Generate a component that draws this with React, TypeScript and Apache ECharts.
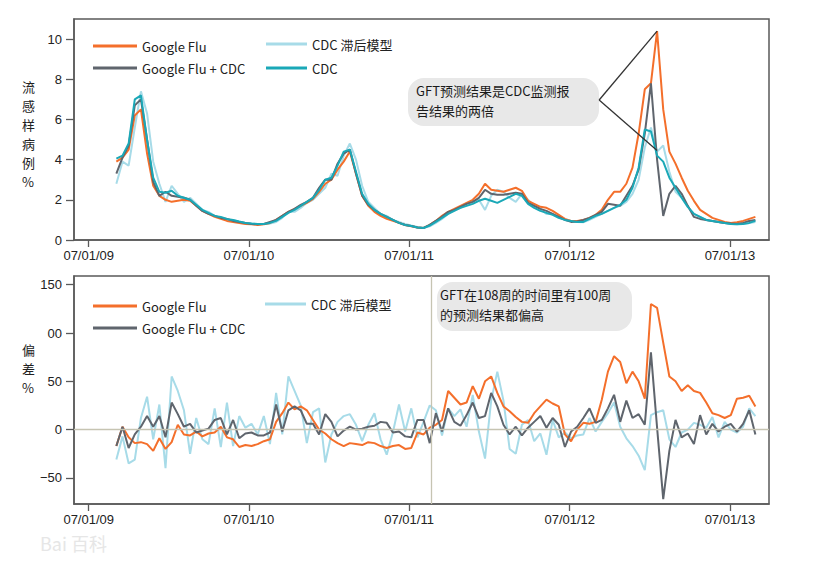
import React, { useEffect, useRef } from "react";
import * as echarts from "echarts";

// Sampling grid: days since 07/01/09, one sample every two weeks
const START_DAY = 63;
const STEP_DAYS = 14;

const TICK_DAYS = [0, 365, 730, 1096, 1461];
const TICK_LABELS = ["07/01/09", "07/01/10", "07/01/11", "07/01/12", "07/01/13"];
const FLU_TICKS = [0, 2, 4, 6, 8, 10];
const ERR_TICKS = [-50, 0, 50, 100, 150];
const ERR_TICK_LABELS = ["−50", "0", "50", "00", "150"];

// Top panel: ILI %
const fluGoogle = [
  3.9, 4.1, 4.5, 6.2, 6.5, 4.3, 2.7, 2.2, 2.0, 1.9, 1.95, 2.0, 1.95, 1.7, 1.45, 1.3, 1.15, 1.05, 0.95, 0.9,
  0.85, 0.8, 0.78, 0.75, 0.78, 0.85, 1.0, 1.2, 1.4, 1.55, 1.7, 1.85, 2.05, 2.4, 2.8, 3.0, 3.5, 3.9, 4.4, 3.3,
  2.2, 1.7, 1.4, 1.2, 1.05, 0.95, 0.85, 0.75, 0.68, 0.62, 0.6, 0.75, 0.95, 1.2, 1.4, 1.55, 1.7, 1.85, 2.0, 2.3,
  2.8, 2.5, 2.45, 2.4, 2.5, 2.6, 2.45, 1.95, 1.8, 1.65, 1.6, 1.45, 1.25, 1.05, 0.95, 0.95, 1.0, 1.1, 1.25, 1.5,
  2.0, 2.4, 2.4, 2.8, 3.6, 5.3, 7.5, 7.8, 10.4, 6.5, 4.4, 3.8, 3.1, 2.45, 1.95, 1.5, 1.3, 1.1, 1.0, 0.9,
  0.85, 0.88, 0.95, 1.05, 1.15,
];
const fluGoogleCdc = [
  3.3, 4.1, 4.7, 6.7, 7.0, 5.0, 2.9, 2.2, 2.4, 2.2, 2.15, 2.1, 2.0, 1.7, 1.45, 1.3, 1.2, 1.1, 1.05, 0.95,
  0.9, 0.85, 0.8, 0.78, 0.8, 0.9, 1.0, 1.2, 1.4, 1.55, 1.75, 1.9, 2.1, 2.6, 3.0, 3.0, 3.8, 4.3, 4.5, 3.3,
  2.2, 1.75, 1.5, 1.3, 1.15, 1.0, 0.85, 0.75, 0.7, 0.62, 0.6, 0.75, 0.95, 1.15, 1.4, 1.5, 1.65, 1.8, 1.9, 2.1,
  2.5, 2.3, 2.25, 2.25, 2.3, 2.35, 2.3, 1.85, 1.7, 1.55, 1.45, 1.3, 1.15, 1.0, 0.9, 0.92, 1.0, 1.1, 1.25, 1.4,
  1.8, 1.75, 1.7, 2.2, 2.7, 3.5, 5.3, 7.8, 4.0, 1.2, 2.3, 2.7, 2.3, 1.7, 1.15, 1.05, 1.0, 0.95, 0.9, 0.85,
  0.82, 0.8, 0.85, 0.95, 1.0,
];
const fluCdc = [
  4.05, 4.2, 4.8, 7.0, 7.2, 5.0, 3.1, 2.4, 2.35, 2.45, 2.2, 2.1, 2.0, 1.75, 1.5, 1.35, 1.2, 1.15, 1.05, 1.0,
  0.92, 0.85, 0.82, 0.8, 0.8, 0.85, 0.95, 1.15, 1.35, 1.5, 1.7, 1.9, 2.1, 2.5, 3.0, 3.1, 3.7, 4.4, 4.5, 3.4,
  2.3, 1.8, 1.5, 1.3, 1.15, 1.0, 0.85, 0.75, 0.7, 0.62, 0.6, 0.72, 0.9, 1.1, 1.3, 1.45, 1.6, 1.7, 1.8, 1.95,
  2.05, 1.95, 1.85, 2.0, 2.15, 2.3, 2.2, 1.8, 1.6, 1.45, 1.35, 1.25, 1.1, 1.0, 0.95, 0.9, 0.9, 1.05, 1.2, 1.3,
  1.45, 1.6, 1.75, 2.0, 2.6, 3.6, 5.5, 5.4, 4.2, 3.9, 3.1, 2.6, 2.1, 1.65, 1.3, 1.15, 1.0, 0.95, 0.9, 0.85,
  0.8, 0.78, 0.8, 0.85, 0.95,
];
const fluCdcLag = [
  2.8, 3.9, 3.7, 5.6, 7.4, 6.3, 3.9, 2.8, 1.9, 2.7, 2.3, 1.9, 2.1, 1.8, 1.5, 1.4, 1.2, 1.1, 1.0, 1.0,
  0.9, 0.85, 0.82, 0.8, 0.8, 0.82, 0.9, 1.1, 1.4, 1.4, 1.6, 1.85, 2.0, 2.3, 2.6, 3.3, 3.2, 4.2, 4.8, 4.0,
  2.7, 1.9, 1.6, 1.3, 1.2, 1.0, 0.9, 0.8, 0.72, 0.65, 0.6, 0.68, 0.85, 1.05, 1.3, 1.5, 1.6, 1.75, 1.9, 2.0,
  1.5, 2.2, 2.5, 2.4, 2.1, 1.9, 2.3, 2.0, 1.7, 1.55, 1.3, 1.3, 1.1, 1.0, 0.95, 0.9, 0.88, 1.0, 1.15, 1.3,
  1.45, 1.6, 1.7, 1.9, 2.3, 3.0, 4.6, 5.6, 4.4, 4.7, 3.4, 2.4, 2.1, 1.65, 1.3, 1.15, 1.0, 0.95, 0.88, 0.85,
  0.8, 0.78, 0.82, 0.85, 0.9,
];

// Bottom panel: error %
const errGoogle = [
  -17, 3, -8, -14, -13, -15, -22, -9, -20, -13, 5, -5, -6, -2, -7, -4, -3, 3, -8, -10,
  -18, -16, -17, -15, -12, -10, 8, 17, 28, 21, 24, 20, 10, 0, -4, -10, -14, -17, -14, -15,
  -16, -13, -14, -17, -19, -17, -16, -20, -19, -3, -5, 2, 5, 10, 40, 33, 26, 28, 45, 32,
  50, 55, 38, 24, 19, 13, 8, 7, 17, 24, 31, 27, 24, -5, -12, 0, 7, 6, 8, 31,
  60, 76, 70, 48, 60, 50, 32, 130, 126, 90, 55, 50, 40, 46, 40, 38, 28, 17, 15, 12,
  15, 32, 33, 35, 24,
];
const errGoogleCdc = [
  -17, 3, -19, -5, 3, 14, 3, 14, -8, 28, 16, 3, 6, -3, -1, 1, 10, 12, -5, 10,
  -9, -4, -3, -6, -6, -3, 26, -2, 20, 24, 20, 6, 6, -5, 16, 8, -7, -1, 3, 0,
  1, 3, 4, 8, 7, -3, -2, -7, -8, 10, 10, -14, 17, -2, 22, 8, 4, 15, 28, 12,
  14, 38, 24, 5, -5, 3, -6, 2, 8, 14, 2, 12, 5, -18, -2, 3, 12, 22, 7, 10,
  22, 36, 8, 30, 12, 16, 5, 80, 2, -72, -22, 10, -8, -4, -15, 15, -5, 6, -2, 3,
  6, -2, 6, 20, -5,
];
const errCdcLag = [
  -31, -7, -35, -31, 12, 34, -10, 26, -40, 55, 40, 20, -25, 12, -10, -15, 22, -18, 28, -17,
  14, 2, 6, -5, 14, -15, 38, -5, 55, 40, 25, -14, 18, 22, -34, -5, 8, 14, 16, 5,
  -12, 5, 17, -10, -26, -3, 26, -2, 22, -8, 8, 25, 20, -6, 22, 14, 21, 3, 36, -2,
  -30, 30, 60, 30, -20, -25, 5, 10, -12, -4, -26, 10, -8, -3, -9, -6, -5, 12, -2, 8,
  17, 28, 3, -9, -17, -27, -42, 15, 18, 20, -10, -18, -3, 0, 7, 5, 2, 13, -8, 8,
  0, -3, 3, 22, 14,
];

const VLINE_DAY = 781;

const C = {
  orange: "#f46f2b",
  gray: "#5f656d",
  teal: "#1aa8b7",
  light: "#a7dbe8",
  frame: "#5a5a5a",
  text: "#222222",
};
const FONT = "Liberation Sans, Arial, Noto Sans CJK SC, sans-serif";
const CJK = "Noto Sans CJK SC, Liberation Sans, sans-serif";

const pairs = (vals: number[]) => vals.map((v, i) => [START_DAY + i * STEP_DAYS, v]);

function xAxisFor(gridIndex: number) {
  return {
    type: "value",
    gridIndex,
    min: -33.5,
    max: 1550,
    splitLine: { show: false },
    axisLine: { show: true, onZero: false, lineStyle: { color: C.frame, width: 1.5 } },
    axisTick: { show: true, length: 7, customValues: TICK_DAYS, lineStyle: { color: C.frame, width: 1.3 } },
    axisLabel: {
      customValues: TICK_DAYS,
      margin: 9,
      fontSize: 13,
      color: C.text,
      fontFamily: FONT,
      formatter: (v: number) => {
        const k = TICK_DAYS.indexOf(Math.round(v));
        return k >= 0 ? TICK_LABELS[k] : "";
      },
    },
  };
}

function lineSeries(name: string, color: string, data: number[], idx: number, extra: any = {}) {
  return {
    type: "line",
    name,
    xAxisIndex: idx,
    yAxisIndex: idx,
    data: pairs(data),
    showSymbol: false,
    symbol: "none",
    color,
    lineStyle: { color, width: 2 },
    itemStyle: { color },
    ...extra,
  };
}

const legendBase = {
  orient: "vertical",
  icon: "rect",
  itemHeight: 3,
  padding: 0,
  selectedMode: false,
  textStyle: { fontSize: 13, lineHeight: 16, color: C.text, fontFamily: CJK },
};

export default function App() {
  const ref = useRef<HTMLDivElement>(null);
  useEffect(() => {
    if (!ref.current) return;
    const chart = echarts.init(ref.current, undefined, { renderer: "svg" });
    chart.setOption({
      animation: false,
      backgroundColor: "#ffffff",
      textStyle: { fontFamily: FONT },
      grid: [
        { left: 74, top: 19, width: 695, height: 221, show: true, borderColor: C.frame, borderWidth: 1.5 },
        { left: 74, top: 276, width: 695, height: 228, show: true, borderColor: C.frame, borderWidth: 1.5 },
      ],
      xAxis: [xAxisFor(0), xAxisFor(1)],
      yAxis: [
        {
          type: "value",
          gridIndex: 0,
          min: 0,
          max: 11,
          splitLine: { show: false },
          axisLine: { show: true, onZero: false, lineStyle: { color: C.frame, width: 1.5 } },
          axisTick: { show: true, length: 8, customValues: FLU_TICKS, lineStyle: { color: C.frame, width: 1.3 } },
          axisLabel: { customValues: FLU_TICKS, margin: 12, fontSize: 13, color: C.text, fontFamily: FONT },
        },
        {
          type: "value",
          gridIndex: 1,
          min: -77,
          max: 159,
          splitLine: { show: false },
          axisLine: { show: true, onZero: false, lineStyle: { color: C.frame, width: 1.5 } },
          axisTick: { show: true, length: 8, customValues: ERR_TICKS, lineStyle: { color: C.frame, width: 1.3 } },
          axisLabel: {
            customValues: ERR_TICKS,
            margin: 12,
            fontSize: 13,
            color: C.text,
            fontFamily: FONT,
            formatter: (v: number) => {
              const k = ERR_TICKS.indexOf(Math.round(v));
              return k >= 0 ? ERR_TICK_LABELS[k] : "";
            },
          },
        },
      ],
      legend: [
        { ...legendBase, left: 93, top: 38, itemWidth: 44, itemGap: 6, data: ["Google Flu", "Google Flu + CDC"] },
        { ...legendBase, left: 266, top: 36, itemWidth: 41, itemGap: 8, data: ["CDC 滞后模型", "CDC"] },
        { ...legendBase, left: 93, top: 298, itemWidth: 44, itemGap: 6, data: ["Google Flu", "Google Flu + CDC"] },
        { ...legendBase, left: 265, top: 296, itemWidth: 41, itemGap: 8, data: ["CDC 滞后模型"] },
      ],
      series: [
        lineSeries("CDC 滞后模型", C.light, fluCdcLag, 0),
        lineSeries("Google Flu", C.orange, fluGoogle, 0),
        lineSeries("Google Flu + CDC", C.gray, fluGoogleCdc, 0),
        lineSeries("CDC", C.teal, fluCdc, 0, {
          markLine: {
            silent: true,
            symbol: "none",
            label: { show: false },
            lineStyle: { color: "#333333", width: 1.3, type: "solid" },
            data: [
              [{ coord: [1163, 6.97] }, { coord: [1295, 10.4] }],
              [{ coord: [1163, 6.97] }, { coord: [1295, 4.45] }],
            ],
          },
        }),
        lineSeries("CDC 滞后模型", C.light, errCdcLag, 1, {
          markLine: {
            silent: true,
            symbol: "none",
            label: { show: false },
            lineStyle: { color: "#c6c4b2", width: 1.3, type: "solid" },
            data: [{ yAxis: 0 }, { xAxis: VLINE_DAY }],
          },
        }),
        lineSeries("Google Flu", C.orange, errGoogle, 1),
        lineSeries("Google Flu + CDC", C.gray, errGoogleCdc, 1),
      ],
      graphic: [
        {
          type: "text",
          left: 22,
          top: 77,
          style: { text: "流\n感\n样\n病\n例\n%", fontSize: 13, lineHeight: 19, fill: C.text, fontFamily: CJK, align: "center" },
        },
        {
          type: "text",
          left: 22,
          top: 340,
          style: { text: "偏\n差\n%", fontSize: 13, lineHeight: 19, fill: C.text, fontFamily: CJK, align: "center" },
        },
        {
          type: "rect",
          shape: { x: 408, y: 78, width: 191, height: 48, r: 16 },
          style: { fill: "#e8e8e8" },
          z: 1,
        },
        {
          type: "text",
          x: 416,
          y: 80,
          z: 2,
          style: {
            text: "GFT预测结果是CDC监测报\n告结果的两倍",
            fontSize: 13,
            lineHeight: 20,
            fill: "#1a1a1a",
            fontFamily: CJK,
          },
        },
        {
          type: "rect",
          shape: { x: 437, y: 282, width: 195, height: 49, r: 16 },
          style: { fill: "#e8e8e8" },
          z: 1,
        },
        {
          type: "text",
          x: 440,
          y: 284,
          z: 2,
          style: {
            text: "GFT在108周的时间里有100周\n的预测结果都偏高",
            fontSize: 13,
            lineHeight: 20,
            fill: "#1a1a1a",
            fontFamily: CJK,
          },
        },
        {
          type: "text",
          x: 40,
          y: 534,
          style: { text: "Bai 百科", fontSize: 18, fill: "#e6e6e6", fontFamily: CJK },
        },
      ],
    });
    return () => chart.dispose();
  }, []);
  return (
    <div
      ref={ref}
      style={{ position: "fixed", left: 0, top: 0, width: 821, height: 574, background: "#fff" }}
    />
  );
}
